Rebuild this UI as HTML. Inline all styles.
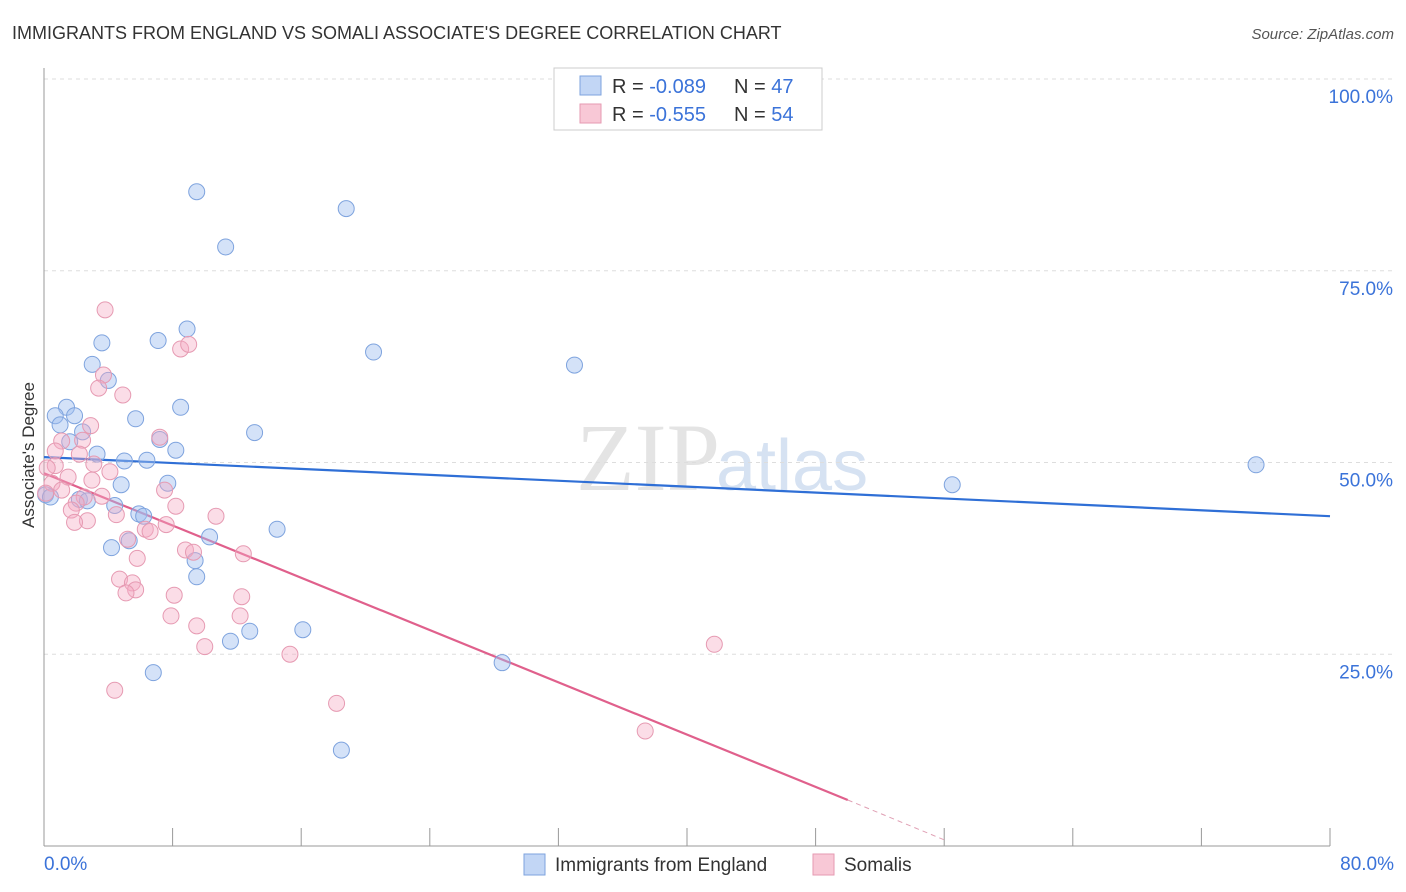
<!DOCTYPE html>
<html><head><meta charset="utf-8"><style>
body{margin:0;background:#fff;font-family:"Liberation Sans",sans-serif}
svg{display:block}
</style></head><body>
<svg id="chart" width="1406" height="892">
<text x="12" y="39" font-size="18" fill="#333">IMMIGRANTS FROM ENGLAND VS SOMALI ASSOCIATE'S DEGREE CORRELATION CHART</text>
<text x="1394" y="39" font-size="15" fill="#555" font-style="italic" text-anchor="end">Source: ZipAtlas.com</text>
<text x="720" y="490" font-size="96" fill="#e4e4e4" font-family="Liberation Serif" text-anchor="end">ZIP</text>
<text x="716" y="490" font-size="72" fill="#d6e2f2">atlas</text>
<g id="grid"></g><g id="axes"></g><g id="trend"></g><g id="pts"></g>
<text x="34" y="455" font-size="17" fill="#333" text-anchor="middle" transform="rotate(-90 34 455)">Associate's Degree</text>
<g>
<rect x="554" y="68" width="268" height="62" fill="#fff" stroke="#ccc"/>
<rect x="580" y="76" width="21" height="19" fill="#c2d6f5" stroke="#7ea3de"/>
<rect x="580" y="104" width="21" height="19" fill="#f8c8d6" stroke="#e69ab2"/>
<text x="612" y="93" font-size="20" fill="#333">R = <tspan fill="#3b73d9">-0.089</tspan><tspan x="734">N = </tspan><tspan fill="#3b73d9">47</tspan></text>
<text x="612" y="121" font-size="20" fill="#333">R = <tspan fill="#3b73d9">-0.555</tspan><tspan x="734">N = </tspan><tspan fill="#3b73d9">54</tspan></text>
</g>
<g>
<rect x="524" y="854" width="21" height="21" fill="#c2d6f5" stroke="#7ea3de"/>
<text x="555" y="871" font-size="19" fill="#333">Immigrants from England</text>
<rect x="813" y="854" width="21" height="21" fill="#f8c8d6" stroke="#e69ab2"/>
<text x="844" y="871" font-size="19" fill="#333">Somalis</text>
</g>
</svg>
<script>
const yTicks=[25,50,75,100];
const yTickLabels=["25.0%","50.0%","75.0%","100.0%"];
const xTickCount=10;
const englandX=[9.5,18.8,11.3,8.9,7.1,3.6,20.5,33.0,3.0,4.0,8.5,1.4,0.7,1.9,5.7,1.0,13.1,2.4,1.6,7.2,8.2,3.3,5.0,6.4,75.4,7.7,56.5,4.8,0.1,2.2,2.7,4.4,5.9,6.2,14.5,10.3,5.3,4.2,9.4,9.5,12.8,16.1,11.6,28.5,6.8,18.5,0.4];
const englandY=[85.3,83.1,78.1,67.4,65.9,65.6,64.4,62.7,62.8,60.7,57.2,57.2,56.1,56.1,55.7,54.9,53.9,54.0,52.7,53.0,51.6,51.1,50.2,50.3,49.7,47.3,47.1,47.1,45.8,45.2,45.0,44.4,43.3,43.0,41.3,40.3,39.8,38.9,37.2,35.1,28.0,28.2,26.7,23.9,22.6,12.5,45.5];
const somaliX=[3.8,8.5,9.0,3.7,3.4,4.9,2.9,7.2,1.1,2.4,0.7,2.2,3.1,0.7,1.5,4.1,0.5,1.1,7.5,2.5,3.6,2.0,8.2,1.7,4.5,2.7,1.9,10.7,7.6,6.3,6.6,5.2,8.8,9.3,12.4,5.8,4.7,5.5,5.7,5.1,8.1,12.3,7.9,12.2,9.5,10.0,15.3,41.7,4.4,18.2,37.4,0.1,0.2,2.98];
const somaliY=[69.9,64.8,65.4,61.4,59.7,58.8,54.8,53.3,52.8,52.9,51.5,51.1,49.8,49.6,48.1,48.8,47.3,46.4,46.4,45.5,45.6,44.7,44.3,43.8,43.2,42.4,42.2,43.0,41.9,41.3,41.0,40.0,38.6,38.3,38.1,37.5,34.8,34.3,33.4,33.0,32.7,32.5,30.0,30.0,28.7,26.0,25.0,26.3,20.3,18.6,15.0,46.0,49.3,47.7];
const englandTrend=[[0,50.7],[80,43.0]];
const somaliTrend=[[0,48.6],[50,6.0]];
const somaliTrendExt=[[50,6.0],[56,0.8]];
const NS="http://www.w3.org/2000/svg";
const X0=44,X1=1330,Y0=846,Y100=79;
const xs=v=>X0+(X1-X0)*v/80;
const ys=v=>Y0-(Y0-Y100)*v/100;
function mk(tag,attrs,parent){const e=document.createElementNS(NS,tag);for(const k in attrs)e.setAttribute(k,attrs[k]);document.getElementById(parent).appendChild(e);return e;}
yTicks.forEach((t,i)=>{
 const l=mk('line',{x1:X0,x2:1394,y1:ys(t),y2:ys(t),stroke:'#ddd','stroke-dasharray':'4,4'},'grid');
 
 
 const tx=mk('text',{x:1393,y:ys(t)+24,'font-size':19,fill:'#3b73d9','text-anchor':'end'},'axes');
 tx.textContent=yTickLabels[i];
 
 
});
const ax=mk('line',{x1:X0,x2:X0,y1:68,y2:846,stroke:'#999'},'axes');


const bx=mk('line',{x1:X0,x2:X1,y1:846,y2:846,stroke:'#999'},'axes');


for(let i=0;i<=xTickCount;i++){
 const t=mk('line',{x1:xs(i*8),x2:xs(i*8),y1:828,y2:846,stroke:'#999'},'axes');
 
 
}
const xl0=mk('text',{x:44,y:870,'font-size':19,fill:'#3b73d9'},'axes');xl0.textContent='0.0%';


const xl1=mk('text',{x:1394,y:870,'font-size':19,fill:'#3b73d9','text-anchor':'end'},'axes');xl1.textContent='80.0%';


englandX.forEach((x,i)=>{
 const c=mk('circle',{cx:xs(x),cy:ys(englandY[i]),r:8,fill:'rgba(160,190,240,0.45)',stroke:'#7ea3de','stroke-width':1},'pts');
 
 
});
somaliX.forEach((x,i)=>{
 const c=mk('circle',{cx:xs(x),cy:ys(somaliY[i]),r:8,fill:'rgba(245,170,195,0.4)',stroke:'#e69ab2','stroke-width':1},'pts');
 
 
});
const bt=mk('line',{x1:xs(englandTrend[0][0]),y1:ys(englandTrend[0][1]),x2:xs(englandTrend[1][0]),y2:ys(englandTrend[1][1]),stroke:'#2f6fd6','stroke-width':2.2},'trend');


const pt=mk('line',{x1:xs(somaliTrend[0][0]),y1:ys(somaliTrend[0][1]),x2:xs(somaliTrend[1][0]),y2:ys(somaliTrend[1][1]),stroke:'#e0608c','stroke-width':2.2},'trend');


const pd=mk('line',{x1:xs(somaliTrendExt[0][0]),y1:ys(somaliTrendExt[0][1]),x2:xs(somaliTrendExt[1][0]),y2:ys(somaliTrendExt[1][1]),stroke:'#e0a0b4','stroke-width':1,'stroke-dasharray':'5,4'},'trend');


</script>
</body></html>
